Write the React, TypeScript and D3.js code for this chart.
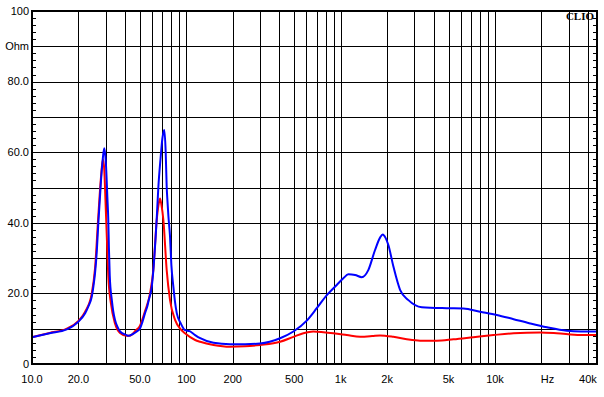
import React from "react";
import * as d3 from "d3";

// impedance curves (Hz, Ohm)
const blueFreq = [10, 13, 16.8, 20, 22.1, 23.3, 24.4, 25, 25.6, 26.3, 26.9, 28.0, 28.8, 29.4, 30.1, 30.8, 31.2, 31.5, 31.9, 32.9, 33.6, 34.5, 35.8, 37.2, 41, 42, 45, 48, 50, 52, 54, 56, 57, 59.7, 61.5, 62.4, 63.3, 64.6, 65.9, 68, 70, 72, 73.5, 74.6, 75.5, 76.5, 78.4, 80, 82.4, 84.5, 86.7, 92, 98, 105, 114, 123, 150, 192, 240, 300, 405, 494, 603, 700, 813, 943, 1041, 1122, 1240, 1370, 1510, 1670, 1800, 1874, 1950, 2037, 2196, 2426, 2747, 3354, 4870, 6237, 8007, 10270, 13200, 16900, 21700, 29200, 36000, 45700];
const blueOhm = [7.6, 8.7, 9.8, 12.0, 14.4, 16.5, 19.1, 22, 25.7, 32, 39.9, 52, 58.5, 61.1, 57, 47, 41, 33, 25, 18.1, 15, 12.5, 10.5, 9.2, 8.2, 8.0, 8.5, 9.3, 10.0, 12, 14.4, 16.5, 18, 21.9, 28, 32, 36.1, 43, 50.2, 58, 64, 66.3, 60, 50.2, 46, 42, 36.1, 28, 21.9, 17.5, 14.4, 11.5, 9.6, 9.3, 8.2, 7.3, 6.0, 5.6, 5.6, 5.8, 7.3, 9.2, 12.3, 15.8, 19.5, 22.4, 24.3, 25.4, 25.2, 24.6, 26.6, 32.3, 35.8, 36.7, 35.8, 33.7, 27.6, 21.0, 18.1, 16.1, 15.8, 15.7, 14.8, 13.9, 12.7, 11.5, 10.4, 9.4, 9.2, 9.2];

const redFreq = [10, 13, 16.8, 20, 22.1, 24.4, 25.6, 26.9, 28.0, 28.8, 29.4, 30.0, 30.6, 31.2, 32.5, 34.5, 37.2, 41, 43, 47, 50, 54, 58.2, 61.1, 64.3, 66, 67.5, 69, 71, 74.6, 78.4, 84.5, 92, 98, 114, 123, 150, 192, 240, 300, 405, 494, 573, 665, 773, 897, 1096, 1336, 1600, 1800, 2196, 2682, 3270, 4195, 5375, 7244, 9770, 13200, 19600, 25100, 35600, 45700];
const redOhm = [7.6, 8.8, 10, 12.2, 14.8, 20, 27, 42, 53, 58, 55, 45, 35, 25, 17, 11.5, 8.8, 8.0, 8.0, 9.5, 10.8, 15, 20, 26.6, 40.8, 45, 46.9, 45, 40.8, 26.6, 18.1, 12.5, 9.8, 8.7, 6.8, 6.3, 5.4, 4.9, 5.0, 5.4, 6.3, 7.7, 8.7, 9.2, 9.0, 8.7, 8.2, 7.7, 7.9, 8.1, 7.7, 7.0, 6.6, 6.6, 7.0, 7.6, 8.2, 8.7, 8.9, 8.7, 8.2, 8.2];

const xTicks = [10, 20, 50, 100, 200, 500, 1000, 2000, 5000, 10000, 20000, 40000];
const xTickLabels = ["10.0", "20.0", "50.0", "100", "200", "500", "1k", "2k", "5k", "10k", "Hz", "40k"];
const yTicks = [100, 90, 80, 60, 40, 20, 0];
const yTickLabels = ["100", "Ohm", "80.0", "60.0", "40.0", "20.0", "0"];

const W = 604, H = 397;
const left = 32, right = 597, top = 11, bottom = 364;

export default function App() {
  const x = d3.scaleLog().domain([10, 45800]).range([left, right]);
  const y = d3.scaleLinear().domain([0, 100]).range([bottom, top]);

  // log grid: 2..9 per decade
  const vGrid: number[] = [];
  for (let dec = 10; dec < 45800; dec *= 10) {
    for (let m = 1; m <= 9; m++) {
      const f = dec * m;
      if (f > 10 && f < 45800) vGrid.push(f);
    }
  }
  const hGrid = d3.range(10, 100, 10);
  const minor = d3.range(2, 100, 2);

  const line = d3.line<[number, number]>()
    .x(d => x(d[0]))
    .y(d => y(d[1]))
    .curve(d3.curveMonotoneX);

  const red = line(redFreq.map((f, i) => [f, redOhm[i]] as [number, number])) || "";
  const blue = line(blueFreq.map((f, i) => [f, blueOhm[i]] as [number, number])) || "";

  const font = "'Liberation Sans', Arial, sans-serif";

  return (
    <svg width={W} height={H} style={{ position: "absolute", left: 0, top: 0, background: "#fff" }}>
      <rect x={0} y={0} width={W} height={H} fill="#fff" />
      <g stroke="#000" strokeWidth={1} shapeRendering="crispEdges">
        {vGrid.map(f => (
          <line key={"v" + f} x1={Math.round(x(f)) + 0.5} x2={Math.round(x(f)) + 0.5} y1={top} y2={bottom} />
        ))}
        {hGrid.map(v => (
          <line key={"h" + v} x1={left} x2={right} y1={Math.round(y(v)) + 0.5} y2={Math.round(y(v)) + 0.5} />
        ))}
        {minor.map(v => (
          <g key={"m" + v}>
            <line x1={left} x2={left + 4} y1={Math.round(y(v)) + 0.5} y2={Math.round(y(v)) + 0.5} />
            <line x1={right - 4} x2={right} y1={Math.round(y(v)) + 0.5} y2={Math.round(y(v)) + 0.5} />
          </g>
        ))}
      </g>
      <path d={red} fill="none" stroke="#ff0000" strokeWidth={2} />
      <path d={blue} fill="none" stroke="#0000ff" strokeWidth={2} />
      <rect x={left} y={top} width={right - left} height={bottom - top} fill="none" stroke="#000" strokeWidth={2} />
      <g fontFamily={font} fontSize={11} fill="#000">
        {yTicks.map((v, i) => (
          <text key={"yl" + v} x={left - 3} y={y(v)} dy="0.35em" textAnchor="end">{yTickLabels[i]}</text>
        ))}
        {xTicks.map((f, i) => (
          <text key={"xl" + f} x={x(f) + (xTickLabels[i] === "Hz" ? 6 : 0)} y={383} textAnchor="middle">{xTickLabels[i]}</text>
        ))}
      </g>
      <text x={594} y={20} textAnchor="end" fontFamily="'Liberation Serif', 'Times New Roman', serif" fontWeight="bold" fontSize={11} fill="#000">CLIO</text>
    </svg>
  );
}
